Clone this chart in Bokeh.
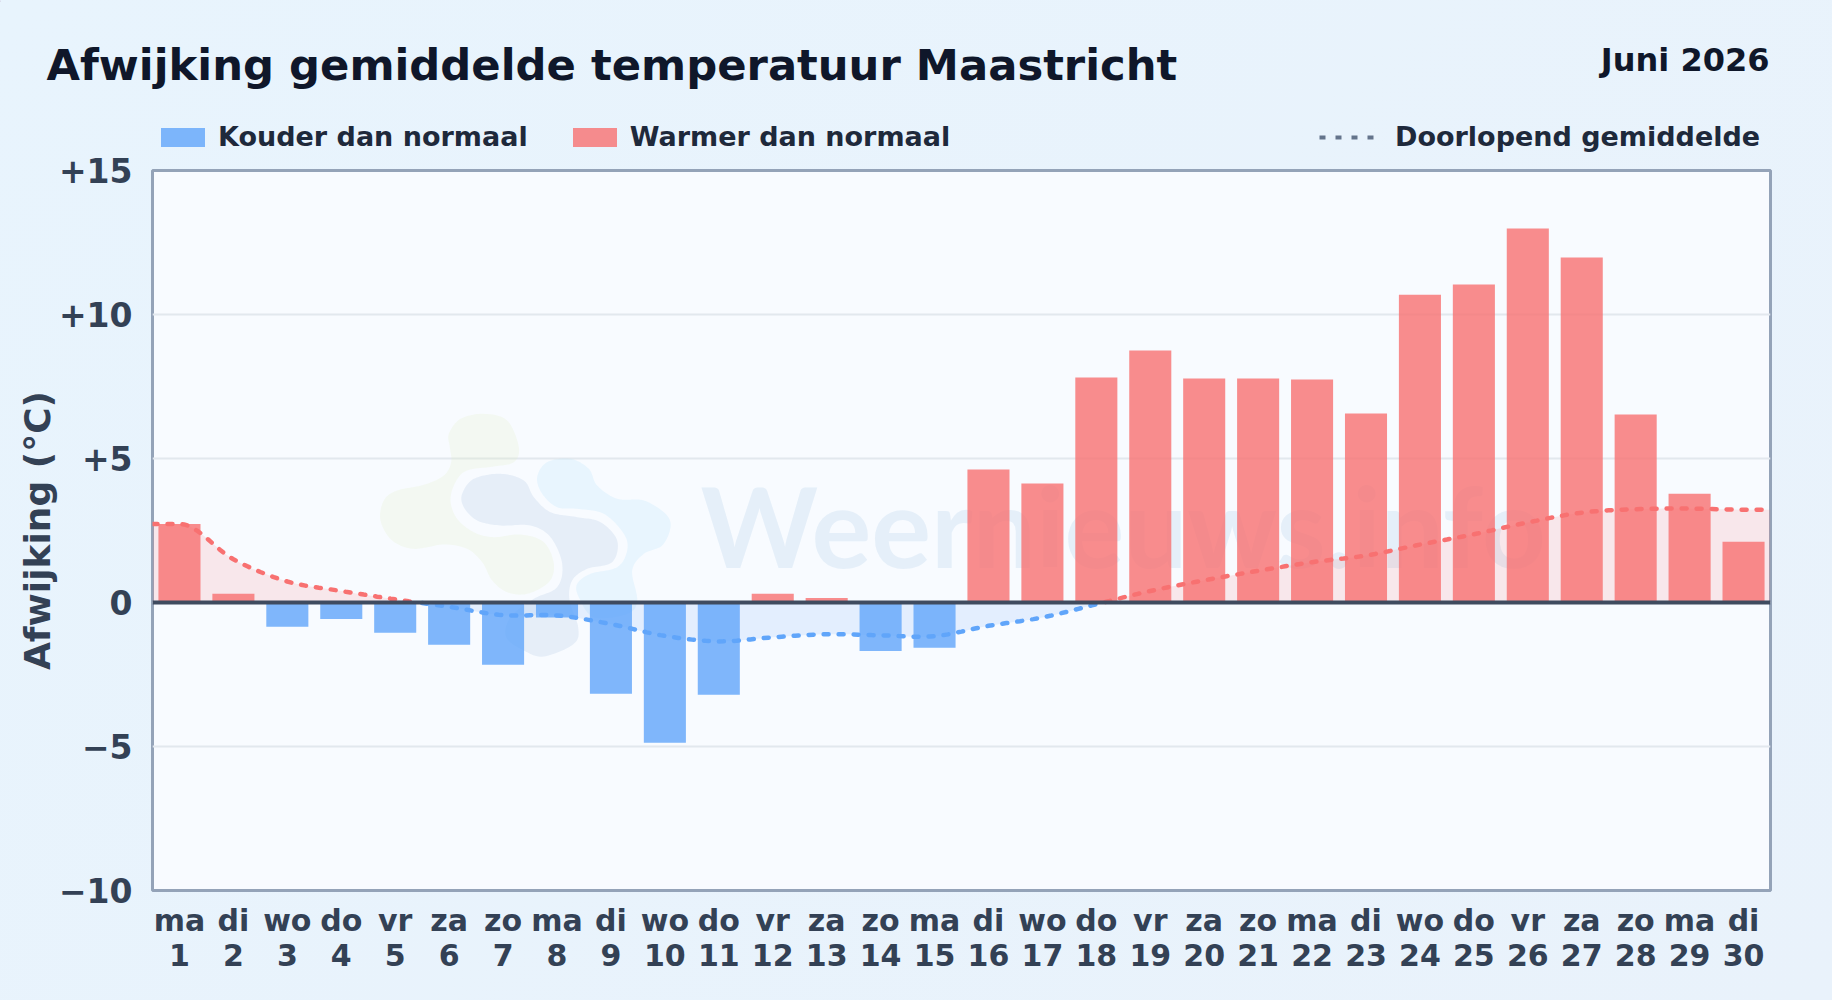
from bokeh.plotting import figure
from bokeh.embed import file_html
from bokeh.resources import INLINE
from bokeh.layouts import column
from bokeh.models import Label, Legend, LegendItem, PolyAnnotation, FixedTicker, Span
import numpy as np

TITLE = "Afwijking gemiddelde temperatuur Maastricht"
PERIOD = "Juni 2026"
WEEKDAYS = ["ma","di","wo","do","vr","za","zo","ma","di","wo","do","vr","za","zo","ma",
            "di","wo","do","vr","za","zo","ma","di","wo","do","vr","za","zo","ma","di"]
DAYS = list(range(1, 31))
ANOMALY = [2.73, 0.30, -0.84, -0.57, -1.05, -1.47, -2.16, -0.52, -3.17, -4.87,
           -3.20, 0.30, 0.16, -1.68, -1.57, 4.62, 4.13, 7.81, 8.75, 7.78,
           7.78, 7.74, 6.56, 10.69, 11.04, 12.99, 11.98, 6.53, 3.78, 2.11]
RUNNING = [2.73, 1.50, 0.73, 0.40, 0.11, -0.15, -0.44, -0.45, -0.75, -1.16,
           -1.35, -1.21, -1.10, -1.14, -1.17, -0.81, -0.52, -0.06, 0.40, 0.77,
           1.10, 1.40, 1.63, 2.01, 2.37, 2.78, 3.12, 3.24, 3.26, 3.22]
RUN_EDGE_L, RUN_EDGE_R = 2.73, 3.22
YTICKS = {-10: "\u221210", -5: "\u22125", 0: "0", 5: "+5", 10: "+10", 15: "+15"}

# layout in window pixels
FL, FR, FT, FB = 152, 1770, 170, 890
W = 1832
HEAD = 157       # header canvas height
MAIN_TOP = 146   # where the main canvas starts (it overlaps the header's empty strip)
H = 1000 - MAIN_TOP
def X(px): return 0.5 + (px - FL) / (FR - FL) * 30
def Y(py): return 15 - (py - FT) / (FB - FT) * 25

FONT = "DejaVu Sans"
p = figure(width=W, height=H, output_backend="svg", toolbar_location=None,
           x_range=(0.5, 30.5), y_range=(-10, 15), frame_align=False,
           min_border_left=FL, min_border_right=W - FR,
           min_border_top=FT - MAIN_TOP, min_border_bottom=1000 - FB)
p.margin = (MAIN_TOP - HEAD, 0, 0, 0)
p.border_fill_alpha = 0
p.background_fill_color = "#f8fbff"
p.outline_line_color = "#94a3b8"
p.outline_line_width = 3

p.xgrid.visible = False
p.ygrid.grid_line_color = "#e2e8ee"
p.ygrid.grid_line_width = 2
p.ygrid.ticker = FixedTicker(ticks=list(YTICKS))

ax = p.xaxis[0]
ax.ticker = FixedTicker(ticks=DAYS)
ax.major_label_overrides = {d: f"{w}\n{d}" for d, w in zip(DAYS, WEEKDAYS)}
ay = p.yaxis[0]
ay.ticker = FixedTicker(ticks=list(YTICKS))
ay.major_label_overrides = dict(YTICKS)
ay.axis_label = "Afwijking (\u00b0C)"
ay.axis_label_text_font = FONT
ay.axis_label_text_font_style = "bold"
ay.axis_label_text_font_size = "36px"
ay.axis_label_text_color = "#334155"
ay.axis_label_standoff = -2
for a in (ax, ay):
    a.axis_line_color = None
    a.major_tick_line_color = None
    a.minor_tick_line_color = None
    a.major_tick_out = 0
    a.major_tick_in = 0
    a.major_label_text_font = FONT
    a.major_label_text_font_style = "bold"
    a.major_label_text_color = "#334155"
ax.major_label_text_font_size = "30px"
ax.major_label_text_line_height = 1.0
ay.major_label_text_font_size = "33px"
ax.major_label_standoff = 12
ay.major_label_standoff = 20


def closed_smooth(pts, n=14):
    P = np.array(pts, float)
    out = []
    m = len(P)
    for i in range(m):
        p0, p1, p2, p3 = P[i - 1], P[i], P[(i + 1) % m], P[(i + 2) % m]
        for t in np.linspace(0, 1, n, endpoint=False):
            out.append(0.5 * (2 * p1 + (p2 - p0) * t + (2 * p0 - 5 * p1 + 4 * p2 - p3) * t**2
                              + (3 * p1 - p0 - 3 * p2 + p3) * t**3))
    return np.array(out)

def blob(pts, color):
    q = closed_smooth(pts)
    xs = X(360 + q[:, 0] / 3)
    ys = Y(390 + q[:, 1] / 3)
    p.add_layout(PolyAnnotation(xs=list(xs), ys=list(ys), fill_color=color, fill_alpha=0.2,
                                line_color=None, level="underlay"))

GREEN_BLOB = [(265,130),(300,85),(370,70),(440,90),(475,170),(460,215),(400,228),(320,240),(285,275),
              (270,330),(290,385),(340,425),(400,440),(480,432),(550,455),(580,520),(565,575),(500,610),
              (440,605),(395,570),(365,515),(320,475),(250,462),(160,475),(95,450),(60,390),(70,330),
              (110,300),(190,283),(250,255),(272,215),(268,170)]
MID_BLOB = [(305,310),(340,265),(420,250),(490,270),(520,320),(570,365),(650,380),(720,395),(770,450),
            (755,515),(680,535),(635,570),(627,630),(653,710),(640,760),(550,798),(490,780),(437,740),
            (450,680),(520,625),(590,590),(605,520),(570,440),(510,405),(420,405),(350,390),(310,350)]
LIGHT_BLOB = [(530,260),(560,215),(630,205),(685,235),(710,285),(770,325),(850,330),(915,370),(930,410),
              (905,465),(850,490),(815,540),(830,630),(800,670),(700,680),(655,620),(650,580),(690,550),
              (770,530),(800,480),(790,430),(730,370),(650,355),(590,350),(545,310)]
blob(GREEN_BLOB, "#dff1be")
blob(MID_BLOB, "#9ebfdc")
blob(LIGHT_BLOB, "#a8e0fc")
p.add_layout(Label(x=X(700), y=Y(524), text="Weernieuws.info", text_font="Lato", text_font_style="bold",
                   text_font_size="112px", text_color="#9cc3e0", text_alpha=0.2,
                   text_align="left", text_baseline="alphabetic", level="underlay"))

# running-mean curve, smooth drawing between the daily values
cx = np.array([0.5] + DAYS + [30.5], float)
cy = np.array([RUN_EDGE_L] + RUNNING + [RUN_EDGE_R], float)
m = np.zeros_like(cy)
m[1:-1] = (cy[2:] - cy[:-2]) / (cx[2:] - cx[:-2])
m[1] = 0.0
xs, ys = [], []
for i in range(len(cx) - 1):
    h = cx[i + 1] - cx[i]
    for t in np.linspace(0, 1, 12, endpoint=False):
        xs.append(cx[i] + h * t)
        ys.append((2*t**3 - 3*t**2 + 1) * cy[i] + (t**3 - 2*t**2 + t) * h * m[i]
                  + (-2*t**3 + 3*t**2) * cy[i + 1] + (t**3 - t**2) * h * m[i + 1])
xs.append(cx[-1]); ys.append(cy[-1])
xs, ys = np.array(xs), np.array(ys)

p.varea(xs, np.zeros_like(ys), np.clip(ys, 0, None), fill_color="#f87171", fill_alpha=0.14)
p.varea(xs, np.zeros_like(ys), np.clip(ys, None, 0), fill_color="#60a5fa", fill_alpha=0.14)

days_arr, anomaly = np.array(DAYS), np.array(ANOMALY)
warm = anomaly >= 0
BAR_W = 0.78
COLD_COL, WARM_COL = "#60a5fa", "#f87171"
p.vbar(days_arr[~warm], BAR_W, 0, anomaly[~warm], fill_color=COLD_COL, fill_alpha=0.8, line_color=None)
p.vbar(days_arr[warm], BAR_W, 0, anomaly[warm], fill_color=WARM_COL, fill_alpha=0.8, line_color=None)

DASH = "5 10"
p.line(xs, np.where(ys >= 0, ys, np.nan), line_color=WARM_COL, line_width=4.5, line_dash=DASH, line_cap="round")
p.line(xs, np.where(ys <= 0, ys, np.nan), line_color=COLD_COL, line_width=4.5, line_dash=DASH, line_cap="round")
p.add_layout(Span(location=0, dimension="width", line_color="#3f4b5f", line_width=4))

# header: data units of this figure are window pixels
hd = figure(width=W, height=HEAD, output_backend="svg", toolbar_location=None,
            x_range=(0, W), y_range=(HEAD, 0), min_border=0, frame_align=False)
hd.axis.visible = False
hd.grid.visible = False
hd.outline_line_color = None
hd.border_fill_alpha = 0
hd.background_fill_alpha = 0

# legend keys only: their single mark lies outside the visible range
r_cold = hd.vbar([-500], 1, 0, 1, fill_color=COLD_COL, fill_alpha=0.8, line_color=None)
r_warm = hd.vbar([-500], 1, 0, 1, fill_color=WARM_COL, fill_alpha=0.8, line_color=None)
r_mean = hd.line([-500, -400], [0, 0], line_color="#64748b", line_width=4, line_dash="6 10")

def legend(items, loc, width, height, standoff, spacing=39):
    lg = Legend(items=[LegendItem(label=t, renderers=[r]) for t, r in items], location=loc,
                orientation="horizontal", background_fill_alpha=0, border_line_color=None,
                padding=0, margin=0, glyph_width=width, glyph_height=height, label_standoff=standoff,
                spacing=spacing, label_text_font=FONT, label_text_font_style="bold",
                label_text_font_size="27px", label_text_color="#1e293b", label_height=19)
    hd.add_layout(lg)

legend([("Kouder dan normaal", r_cold), ("Warmer dan normaal", r_warm)], (155, 5), 55, 24, 8)
legend([("Doorlopend gemiddelde", r_mean)], (1319, 5), 62, 24, 14)

hd.add_layout(Label(x=46, y=64.5, text=TITLE, text_font=FONT, text_font_style="bold",
                    text_font_size="43.3px", text_color="#0f172a", text_baseline="alphabetic"))
hd.add_layout(Label(x=1769, y=59, text=PERIOD, text_font=FONT, text_font_style="bold",
                    text_font_size="32px", text_color="#0f172a", text_align="right", text_baseline="alphabetic"))

page = column(hd, p, spacing=0)
html = file_html(page, INLINE)
html = html.replace("</head>", "<style>html,body{background:linear-gradient(135deg,#e8f4fd,#e9f2fb) fixed #e9f3fc;}</style></head>", 1)
open("out.html", "w").write(html)
